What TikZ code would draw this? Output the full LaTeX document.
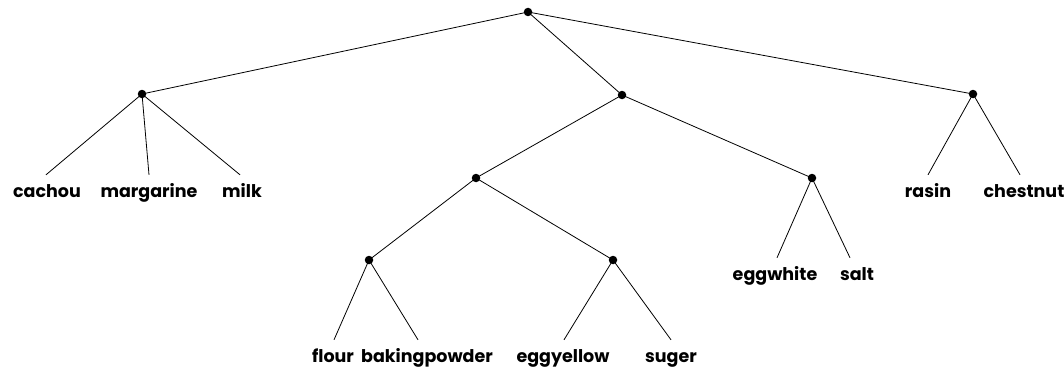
\documentclass[tikz,border=0pt]{standalone}
\usepackage{fontspec}
\setmainfont{Poppins}
\begin{document}
\begin{tikzpicture}[x=1pt,y=-1pt,
  inner/.style={circle,fill=black,inner sep=0pt,minimum size=8.5pt},
  leaf/.style={font=\fontsize{17.5}{20}\selectfont\bfseries,anchor=base,inner sep=0pt,text height=22pt,text depth=4pt},
  edge/.style={line width=0.8pt}]
\useasboundingbox (0,0) rectangle (1064,369);
\node[inner] (root) at (528,12) {};
\node[inner] (l1) at (142,94) {};
\node[inner] (m1) at (622,95) {};
\node[inner] (r1) at (973,94) {};
\node[inner] (a) at (476,178) {};
\node[inner] (b) at (812,178) {};
\node[inner] (c) at (369,260) {};
\node[inner] (d) at (613,260) {};
% leaves
\node[leaf] (cachou) at (47,197) {cachou};
\node[leaf] (margarine) at (149,197) {margarine};
\node[leaf] (milk) at (242,197) {milk};
\node[leaf] (rasin) at (928,197) {rasin};
\node[leaf] (chestnut) at (1024,197) {chestnut};
\node[leaf] (eggwhite) at (775,280) {eggwhite};
\node[leaf] (salt) at (857,280) {salt};
\node[leaf] (flour) at (333,362) {flour};
\node[leaf] (bakingpowder) at (427,362) {bakingpowder};
\node[leaf] (eggyellow) at (563,362) {eggyellow};
\node[leaf] (suger) at (671,362) {suger};
\draw[edge] (root.center) -- (l1.center);
\draw[edge] (root.center) -- (m1.center);
\draw[edge] (root.center) -- (r1.center);
\draw[edge] (l1.center) -- ([xshift=-1pt]cachou.north);
\draw[edge] (l1.center) -- (margarine.north);
\draw[edge] (l1.center) -- ([xshift=-2pt]milk.north);
\draw[edge] (m1.center) -- (a.center);
\draw[edge] (m1.center) -- (b.center);
\draw[edge] (r1.center) -- (rasin.north);
\draw[edge] (r1.center) -- ([xshift=-4pt]chestnut.north);
\draw[edge] (a.center) -- (c.center);
\draw[edge] (a.center) -- (d.center);
\draw[edge] (b.center) -- ([xshift=2pt]eggwhite.north);
\draw[edge] (b.center) -- ([xshift=-7pt]salt.north);
\draw[edge] (c.center) -- ([xshift=1pt]flour.north);
\draw[edge] (c.center) -- ([xshift=-9pt]bakingpowder.north);
\draw[edge] (d.center) -- ([xshift=1pt]eggyellow.north);
\draw[edge] (d.center) -- (suger.north);
\end{tikzpicture}
\end{document}
